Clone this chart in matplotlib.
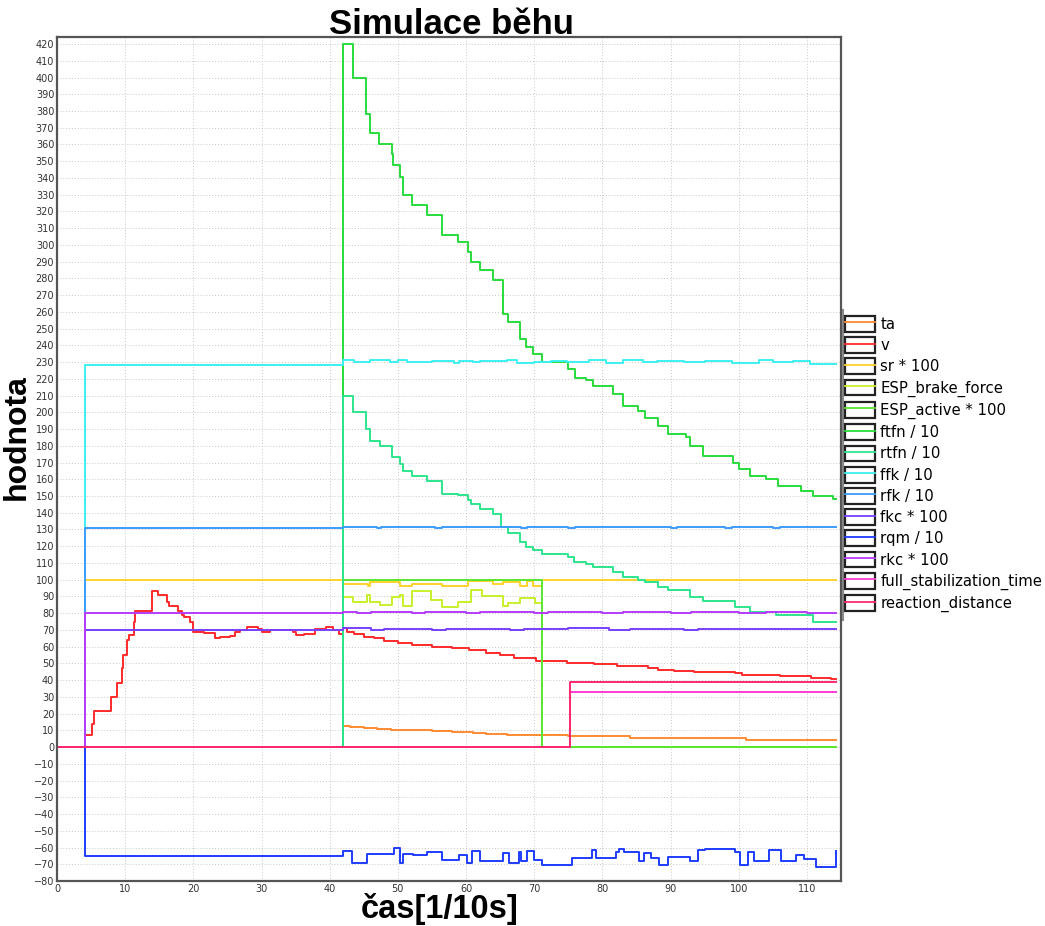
import numpy as np
import matplotlib
matplotlib.use("Agg")
import matplotlib.pyplot as plt
from matplotlib.lines import Line2D
from matplotlib.patches import Rectangle
from matplotlib.legend_handler import HandlerTuple

END = 114.3

# ---- data (time in 1/10 s, step change points) ----
ta_t = [0, 42, 43, 45, 47, 49, 52, 55, 58, 61, 63, 66, 71, 75, 84, 93, 101]
ta_v = [0, 12.5, 12, 11.5, 11, 10.5, 10, 9.5, 9, 8.5, 8, 7.5, 7, 6.5, 5.5, 5.2, 4.5]

v_t = [0, 4.1, 5.1, 5.5, 7.9, 8.75, 9.5, 9.7, 10.2, 10.6, 11.3, 11.5, 13.9, 14.0, 14.8,
       16.1, 16.4, 17.8, 18.3, 18.7, 19.5, 20.0, 21.5, 23.2, 23.9, 25.4, 26.1, 26.9, 27.8,
       28.5, 29.5, 30.0, 31.2, 34.6, 35.1, 36.3, 37.8, 39.5, 40.5, 41.3, 41.9, 42.5, 43.5,
       45, 46.5, 48, 50, 52, 55, 58, 60.5, 63, 65, 67, 70.3, 74.8, 78.8, 82.2, 86.7, 88.1,
       90.5, 93.5, 99.4, 100.5, 106, 110.6, 113.5]
v_v = [0, 7, 14, 21.3, 30, 38, 47, 55, 64, 67, 75, 81, 86, 93, 91,
       86.5, 84, 81, 79, 78, 75, 69, 68, 65, 66, 66.5, 68.5, 70, 71.5,
       72, 70.5, 68.5, 70, 69, 67, 67.5, 70.5, 71.5, 70, 67.5, 71, 69, 67.5,
       66, 65, 63.5, 62, 61, 60, 59, 58, 56.5, 55, 53, 51.5, 50.5, 49.6, 48.3, 47.3, 46,
       45.6, 44.6, 44, 43, 42.5, 41.5, 40.8]

sr_t = [0, 4.1, 42.0, 45.6, 45.9, 50.3, 52.0, 56.4, 60.3, 64.0, 65.4, 67.9, 68.9, 69.8, 71.1]
sr_v = [0, 100, 97.6, 96, 98.5, 96.1, 97.6, 96.5, 99.4, 97.6, 98.5, 96.5, 99.5, 96, 99.6]

eb_t = [0, 42.0, 43.4, 45.4, 45.9, 47.4, 49.1, 50.3, 50.8, 52.0, 54.9, 56.4, 58.8, 60.8,
        62.3, 65.4, 66.2, 67.9, 70.1, 71.1]
eb_v = [0, 89.5, 86.5, 91, 86.5, 85, 89.5, 91, 84.5, 93, 88, 83.5, 86.5, 94,
        90, 84.5, 86, 89, 86, 0]

ea_t = [0, 42.0, 71.1]
ea_v = [0, 100, 0]

ft_t = [0, 42.0, 43.4, 45.3, 45.9, 47.3, 49.1, 49.3, 50.3, 50.8, 52.0, 54.2, 56.4, 58.8,
        60.3, 60.8, 62.0, 64.0, 65.4, 66.2, 67.9, 68.8, 69.8, 71.1, 75.0, 76.0, 77.6, 78.6,
        81.6, 83.0, 85.2, 86.2, 88.2, 89.6, 92.3, 92.8, 94.8, 99.2, 100.1, 101.6, 104.0,
        105.8, 109.2, 110.9, 113.8]
ft_v = [0, 420, 400, 378, 367, 360, 354.5, 348, 340.5, 330, 324, 318, 306, 301.5,
        295.7, 290, 285, 279, 259, 254, 244, 239, 235, 230, 226, 220.7, 219, 215.5,
        211, 203.5, 201, 196.5, 192, 187, 185, 179.6, 174, 170, 166, 162, 160,
        156, 153, 150, 148.5]

rt_t = [0, 42.0, 43.4, 45.3, 45.9, 47.4, 49.1, 50.3, 50.8, 52.0, 54.2, 56.4, 58.8, 60.3,
        60.8, 62.0, 64.0, 65.2, 66.2, 67.9, 68.8, 69.8, 71.1, 74.9, 75.8, 77.6, 78.6, 81.6,
        83.0, 85.2, 86.2, 88.2, 89.6, 92.8, 94.8, 99.4, 101.6, 105.5, 110.9, 113.8]
rt_v = [0, 210, 200, 190, 183, 180, 173.5, 169, 165, 162, 159, 151, 150.8, 147.4,
        145, 142.4, 139.4, 131.4, 127.8, 122.5, 119.5, 117.5, 115.5, 113.5, 110.5, 109.5,
        107.5, 104.5, 101.5, 99.6, 98.6, 95.6, 94, 89.6, 87.2, 83.6, 80.6, 78.7, 74.7, 74.7]

ffk_t = [0, 4.1, 42.0, 43.6, 45.9, 48.8, 50.0, 51.3, 55.0, 58.2, 59.0, 61.0, 62.0, 66.0,
         67.5, 70.0, 72.5, 74.8, 78.0, 80.5, 83.0, 86.0, 88.0, 92.0, 95.0, 99.0, 103.0,
         105.0, 108.0, 110.5]
ffk_v = [0, 228.5, 231, 230, 231, 230, 231, 230, 230.5, 229.5, 230.5, 230, 230.5, 231,
         229.5, 230, 230.5, 230, 231, 229.5, 231, 230, 230.5, 230, 230.5, 229.5, 231,
         230, 230.5, 229]

rfk_t = [0, 4.1, 42.0, 47.0, 47.5, 55.5, 56.5, 68.0, 69.0, 75.0, 76.0, 90.0, 91.0, 98.0,
         99.0, 105.0, 106.0]
rfk_v = [0, 131, 131.5, 130.8, 131.5, 130.8, 131.5, 130.8, 131.5, 130.8, 131.5, 130.8,
         131.5, 130.8, 131.5, 130.8, 131.5]

fkc_t = [0, 4.1, 42.0, 46.0, 48.0, 55.0, 57.0, 66.5, 68.5, 72.0, 75.0, 81.0, 84.0, 92.0,
         94.0, 100.0, 103.0, 110.0]
fkc_v = [0, 70, 71, 70.2, 70.8, 70.2, 70.8, 70.2, 70.8, 70.3, 70.9, 70.2, 70.8, 70.2,
         70.8, 70.3, 70.8, 70.3]

rqm_t = [0, 4.1, 42.0, 43.3, 45.4, 49.4, 50.3, 50.7, 52.2, 54.2, 56.4, 59.0, 60.1, 60.9,
         62.1, 65.4, 66.3, 67.7, 68.0, 69.0, 69.9, 71.1, 74.8, 75.5, 78.5, 79.0, 81.6, 82.0,
         82.4, 83.1, 85.4, 86.1, 87.2, 88.3, 89.6, 92.8, 94.0, 95.0, 99.4, 100.2, 101.4,
         102.2, 104.4, 106.2, 108.4, 109.6, 111.4, 114.3]
rqm_v = [0, -65.3, -62.3, -69.3, -63.7, -60.3, -69.3, -63.7, -64.7, -62.7, -67.3, -64.7,
         -69.3, -62.3, -67.8, -63.3, -69.3, -62.7, -67.8, -62.3, -67.3, -70.3, -70.3, -66.4,
         -61.6, -66.4, -66.4, -62.6, -60.6, -62.6, -68.2, -63.0, -66.0, -70.3, -65.6, -68.2,
         -61.6, -60.6, -62.6, -70.3, -62.6, -68.2, -61.4, -68.2, -64.7, -67.0, -71.7, -62.0]

rkc_t = [0, 4.1, 42.0, 44.0, 46.0, 52.0, 54.0, 60.0, 62.0, 70.0, 72.0, 80.0, 83.0, 90.0,
         93.0, 100.0, 104.0, 110.0]
rkc_v = [0, 80, 80.5, 80, 80.6, 80.1, 80.6, 80, 80.6, 80.1, 80.6, 80.1, 80.7, 80.1,
         80.6, 80.2, 80.7, 80.3]

fs_t = [0, 75.2]
fs_v = [0, 33]

rd_t = [0, 75.2]
rd_v = [0, 38.8]

labels = ["ta", "v", "sr * 100", "ESP_brake_force", "ESP_active * 100", "ftfn / 10",
          "rtfn / 10", "ffk / 10", "rfk / 10", "fkc * 100", "rqm / 10", "rkc * 100",
          "full_stabilization_time", "reaction_distance"]
colors = ["#ff8a30", "#ff2a2a", "#ffd22a", "#c8f02a", "#5ae632", "#28dc3c", "#2ce68c",
          "#3cf0f0", "#3c9cff", "#7840ff", "#1e3cff", "#b43cff", "#ff3cd2", "#ff2870"]
series = [(ta_t, ta_v), (v_t, v_v), (sr_t, sr_v), (eb_t, eb_v), (ea_t, ea_v),
          (ft_t, ft_v), (rt_t, rt_v), (ffk_t, ffk_v), (rfk_t, rfk_v), (fkc_t, fkc_v),
          (rqm_t, rqm_v), (rkc_t, rkc_v), (fs_t, fs_v), (rd_t, rd_v)]

FONT = ["Liberation Sans", "DejaVu Sans"]

fig = plt.figure(figsize=(10.45, 9.26), dpi=100)
W, H = 1045, 926
ax = fig.add_axes([57 / W, 1 - 881 / H, (841 - 57) / W, (881 - 37) / H])

for (ts, vs), c in zip(series, colors):
    ts = list(ts)
    vs = list(vs)
    if ts[-1] < END:
        ts.append(END)
        vs.append(vs[-1])
    ax.step(ts, vs, where="post", color=c, lw=1.4)

ax.set_xlim(0, 115)
ax.set_ylim(-80, 424.2)
ax.set_xticks(range(0, 111, 10))
ax.set_yticks(range(-80, 421, 10))
ax.tick_params(length=0, labelsize=7, colors="#333333", pad=2)
ax.grid(True, linestyle=(0, (1, 2)), color="#c8c8c8", lw=0.7)
ax.set_axisbelow(True)
for sp in ax.spines.values():
    sp.set_color("#555555")
    sp.set_linewidth(1.6)

fig.text(451 / W, 1 - 34 / H, "Simulace běhu", ha="center", va="baseline",
         fontsize=25, fontweight="bold", family=FONT)
fig.text(17 / W, 1 - 437 / H, "hodnota", ha="center", va="center", rotation=90,
         fontsize=23, fontweight="bold", family=FONT)
fig.text(440 / W, 1 - 918 / H, "čas[1/10s]", ha="center", va="baseline",
         fontsize=23.5, fontweight="bold", family=FONT)

handles = [(Rectangle((0, 0), 1, 1, facecolor="white", edgecolor="#222222", lw=1.6),
            Line2D([], [], color=c, lw=1.3)) for c in colors]
fig.legend(handles, labels, loc="upper left", bbox_to_anchor=(845 / W, 1 - 316 / H),
           frameon=False, handler_map={tuple: HandlerTuple(ndivide=1)},
           prop={"family": "DejaVu Sans", "size": 10.7}, handlelength=2.0,
           handleheight=1.25, handletextpad=0.38, labelspacing=0.36, borderpad=0,
           borderaxespad=0)
fig.add_artist(Line2D([843 / W, 843 / W], [1 - 310 / H, 1 - 620 / H],
                      color="#888888", lw=1.5, transform=fig.transFigure))

fig.savefig("out.png", dpi=100)
